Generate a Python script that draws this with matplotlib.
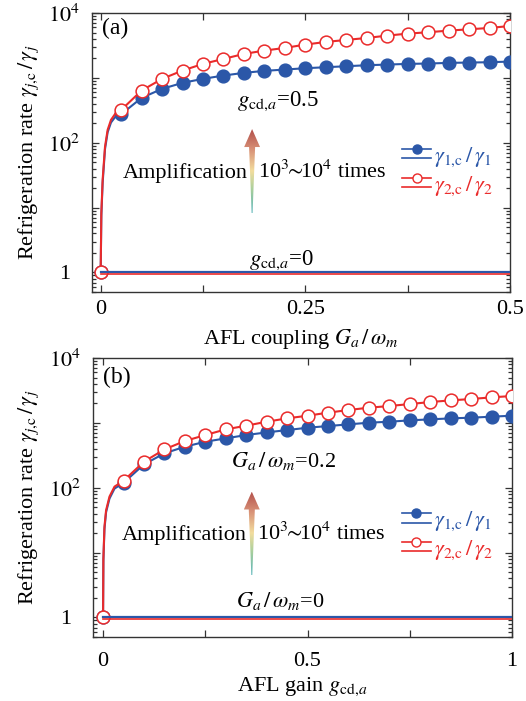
import numpy as np
import matplotlib
matplotlib.use("Agg")
import matplotlib.pyplot as plt
from matplotlib.lines import Line2D
from matplotlib.patches import Polygon
from matplotlib.legend_handler import HandlerBase
from matplotlib.colors import LinearSegmentedColormap
import matplotlib.transforms as mtransforms

plt.rcParams['font.family'] = ['Liberation Serif', 'DejaVu Serif']
plt.rcParams['mathtext.fontset'] = 'stix'
plt.rcParams['font.size'] = 16

BLUE = '#2b57a8'
RED = '#ea2b2b'

# ---- panel (a): rate vs AFL coupling G_a/omega_m (g_cd,a = 0.5) ----
Ga_mark = [0, 0.025, 0.05, 0.075, 0.1, 0.125, 0.15, 0.175, 0.2, 0.225, 0.25,
           0.275, 0.3, 0.325, 0.35, 0.375, 0.4, 0.425, 0.45, 0.475, 0.5]
rate1_a = [1, 275, 492, 677, 838, 966, 1086, 1195, 1282, 1344, 1408,
           1459, 1511, 1566, 1603, 1642, 1663, 1702, 1722, 1743, 1783]
rate2_a = [1, 320, 638, 966, 1297, 1642, 1960, 2340, 2635, 2895, 3260,
           3580, 3845, 4125, 4480, 4810, 5050, 5350, 5610, 5880, 6310]
# steep start of the curves (between first two markers)
Ga_start = [0.0008, 0.0024, 0.0053, 0.0085, 0.0126, 0.0183]
rate1_a_start = [7.5, 24, 80, 145, 205, 255]
rate2_a_start = [8.2, 27, 87, 158, 225, 286]

# ---- panel (b): rate vs AFL gain g_cd,a (G_a/omega_m = 0.2) ----
g_mark = [0, 0.05, 0.1, 0.15, 0.2, 0.25, 0.3, 0.35, 0.4, 0.45, 0.5,
          0.55, 0.6, 0.65, 0.7, 0.75, 0.8, 0.85, 0.9, 0.95, 1.0]
rate1_b = [1, 119, 229, 339, 429, 512, 577, 649, 713, 774, 842,
           893, 948, 1006, 1042, 1093, 1133, 1173, 1202, 1245, 1290]
rate2_b = [1, 128, 252, 390, 525, 649, 794, 904, 1042, 1173, 1290,
           1436, 1578, 1714, 1818, 1951, 2095, 2222, 2332, 2473, 2595]
g_start = [0.0008, 0.0034, 0.0074, 0.0157, 0.028]
rate1_b_start = [7.5, 23, 42, 68, 97]
rate2_b_start = [8, 25, 45, 73, 104]

# reference (no amplification) level
base_level = 1

arrow_cmap = LinearSegmentedColormap.from_list(
    'amp', [(0.0, '#58b4b8'), (0.28, '#a9cf9c'), (0.5, '#f2dd9e'),
            (0.75, '#d99378'), (1.0, '#b24f4a')])


class TwoLineHandler(HandlerBase):
    # marker line on top, plain line underneath
    def create_artists(self, legend, orig_handle, xdescent, ydescent,
                       width, height, fontsize, trans):
        y = height / 2 - ydescent
        x0, x1 = -xdescent, -xdescent + width
        c = orig_handle.get_color()
        top = Line2D([x0, (x0 + x1) / 2, x1], [y + 3.6] * 3, color=c, lw=1.2,
                     marker='o', markevery=[1], ms=6.5,
                     mfc=orig_handle.get_markerfacecolor(), mec=c, mew=1.0)
        bot = Line2D([x0, x1], [y - 3.0] * 2, color=c, lw=1.2)
        top.set_transform(trans)
        bot.set_transform(trans)
        return [top, bot]


def gradient_arrow(ax, xc, y0, y1, w):
    ins = ax.inset_axes([xc - w / 2, y0, w, y1 - y0])
    ins.axis('off')
    ins.set_xlim(0, 1)
    ins.set_ylim(0, 1)
    grad = np.linspace(0, 1, 256).reshape(-1, 1)
    im = ins.imshow(grad, extent=(0, 1, 0, 1), origin='lower', cmap=arrow_cmap,
                    aspect='auto', interpolation='bilinear')
    hb = 0.786
    pts = [(0.47, 0), (0.53, 0), (0.69, hb), (1, hb), (0.5, 1), (0, hb), (0.31, hb)]
    poly = Polygon(pts, closed=True, transform=ins.transData, fc='none', ec='none')
    ins.add_patch(poly)
    im.set_clip_path(poly)


def style_axes(ax, xlim, xticks, xlabels, xpad):
    ax.set_yscale('log')
    ax.set_ylim(0.5, 1e4)
    ax.set_xlim(*xlim)
    ax.set_xticks(xticks)
    ax.set_xticklabels(xlabels)
    ax.set_yticks([1, 10, 100, 1000, 10000])
    ax.set_yticklabels(['1', '', '$10^2$', '', '$10^4$'])
    ax.yaxis.set_minor_locator(matplotlib.ticker.LogLocator(base=10, subs=np.arange(2, 10)))
    ax.yaxis.set_minor_formatter(matplotlib.ticker.NullFormatter())
    ax.tick_params(which='both', direction='in', top=True, right=True, width=0.9, color='#333333')
    ax.tick_params(which='major', length=5)
    ax.tick_params(which='minor', length=3)
    ax.tick_params(axis='x', pad=xpad, labelsize=16)
    ax.tick_params(axis='y', pad=20, labelsize=16)
    for lab in ax.get_yticklabels():
        lab.set_horizontalalignment('center')
    for s in ax.spines.values():
        s.set_linewidth(1.0)
        s.set_color('#333333')


def draw_panel(ax, xm, r1, r2, xs, r1s, r2s):
    # curves with markers
    ax.plot([0] + xs + xm[1:], [r1[0]] + r1s + r1[1:], color=BLUE, lw=1.5, zorder=2)
    ax.plot(xm, r1, 'o', color=BLUE, ms=9.2, mec=BLUE, zorder=3)
    ax.plot([0] + xs + xm[1:], [r2[0]] + r2s + r2[1:], color=RED, lw=1.5, zorder=4)
    ax.plot(xm, r2, 'o', color=RED, ms=9.2, mfc='white', mec=RED, mew=1.1, zorder=5)
    # no-amplification level
    base_x = [0, xm[-1]]
    ax.plot(base_x, [base_level] * 2, color=BLUE, lw=1.6, zorder=6)
    shift = mtransforms.offset_copy(ax.transData, fig=ax.figure, x=0, y=-1.1, units='points')
    ax.plot(base_x, [base_level] * 2, color=RED, lw=1.2, zorder=6, transform=shift)
    h1 = Line2D([], [], color=BLUE, marker='o', mfc=BLUE)
    h2 = Line2D([], [], color=RED, marker='o', mfc='white')
    return h1, h2


fig = plt.figure(figsize=(5.26, 7.01), dpi=100)
ax1 = fig.add_axes([92 / 526, 1 - 292 / 701, 418 / 526, 279 / 701])
ax2 = fig.add_axes([93 / 526, 1 - 637 / 701, 419 / 526, 279 / 701])

ylabel = r'Refrigeration rate $\gamma_{j{,}\mathrm{c}}\,/\,\gamma_j$'
leg_labels = [r'$\gamma_{1{,}\mathrm{c}}\,/\,\gamma_1$', r'$\gamma_{2{,}\mathrm{c}}\,/\,\gamma_2$']
amp_text = r'10$^3\!\!\sim\!\!$10$^4$ times'
gcd = r'$g_{\mathrm{cd}{,}a}$'
Gw = r'$G_a\,/\,\omega_m$'

# panel (a)
h1, h2 = draw_panel(ax1, Ga_mark, rate1_a, rate2_a, Ga_start, rate1_a_start, rate2_a_start)
style_axes(ax1, (-0.0106, 0.5), [0, 0.125, 0.25, 0.375, 0.5], ['0', '', '0.25', '', '0.5'], 6)
ax1.set_xlabel('AFL coupling ' + Gw, fontsize=16)
ax1.xaxis.set_label_coords(0.5, -0.125)
ax1.set_ylabel(ylabel, fontsize=16)
ax1.yaxis.set_label_coords(-0.123, 0.5)
ax1.text(0.023, 0.925, '(a)', transform=ax1.transAxes, fontsize=17, va='baseline')
ax1.text(0.446, 0.667, gcd + '=0.5', transform=ax1.transAxes, ha='center', va='baseline', fontsize=16.5)
ax1.text(0.454, 0.097, gcd + '=0', transform=ax1.transAxes, ha='center', va='baseline', fontsize=16.5)
ax1.text(0.3716, 0.4075, 'Amplification', transform=ax1.transAxes, ha='right', va='baseline', fontsize=16)
ax1.text(0.398, 0.4075, amp_text, transform=ax1.transAxes, ha='left', va='baseline', fontsize=16)
gradient_arrow(ax1, 0.383, 0.283, 0.584, 0.038)
ax1.legend([h1, h2], leg_labels, handler_map={Line2D: TwoLineHandler()},
           loc='center left', bbox_to_anchor=(0.742, 0.432), frameon=False,
           handlelength=1.3, handletextpad=0.15, labelspacing=0.25,
           borderpad=0, borderaxespad=0, fontsize=16, labelcolor='linecolor')

# panel (b)
h1, h2 = draw_panel(ax2, g_mark, rate1_b, rate2_b, g_start, rate1_b_start, rate2_b_start)
style_axes(ax2, (-0.0246, 1.0), [0, 0.25, 0.5, 0.75, 1.0], ['0', '', '0.5', '', '1'], 11)
ax2.set_xlabel('AFL gain ' + gcd, fontsize=16)
ax2.xaxis.set_label_coords(0.5, -0.14)
ax2.set_ylabel(ylabel, fontsize=16)
ax2.yaxis.set_label_coords(-0.123, 0.5)
ax2.text(0.023, 0.909, '(b)', transform=ax2.transAxes, fontsize=17, va='baseline')
ax2.text(0.454, 0.610, Gw + '=0.2', transform=ax2.transAxes, ha='center', va='baseline', fontsize=16)
ax2.text(0.446, 0.109, Gw + '=0', transform=ax2.transAxes, ha='center', va='baseline', fontsize=16)
ax2.text(0.368, 0.348, 'Amplification', transform=ax2.transAxes, ha='right', va='baseline', fontsize=16)
ax2.text(0.391, 0.348, amp_text, transform=ax2.transAxes, ha='left', va='baseline', fontsize=16)
gradient_arrow(ax2, 0.379, 0.222, 0.521, 0.038)
ax2.legend([h1, h2], leg_labels, handler_map={Line2D: TwoLineHandler()},
           loc='center left', bbox_to_anchor=(0.737, 0.362), frameon=False,
           handlelength=1.3, handletextpad=0.15, labelspacing=0.25,
           borderpad=0, borderaxespad=0, fontsize=16, labelcolor='linecolor')

fig.savefig('out.png', dpi=100)
